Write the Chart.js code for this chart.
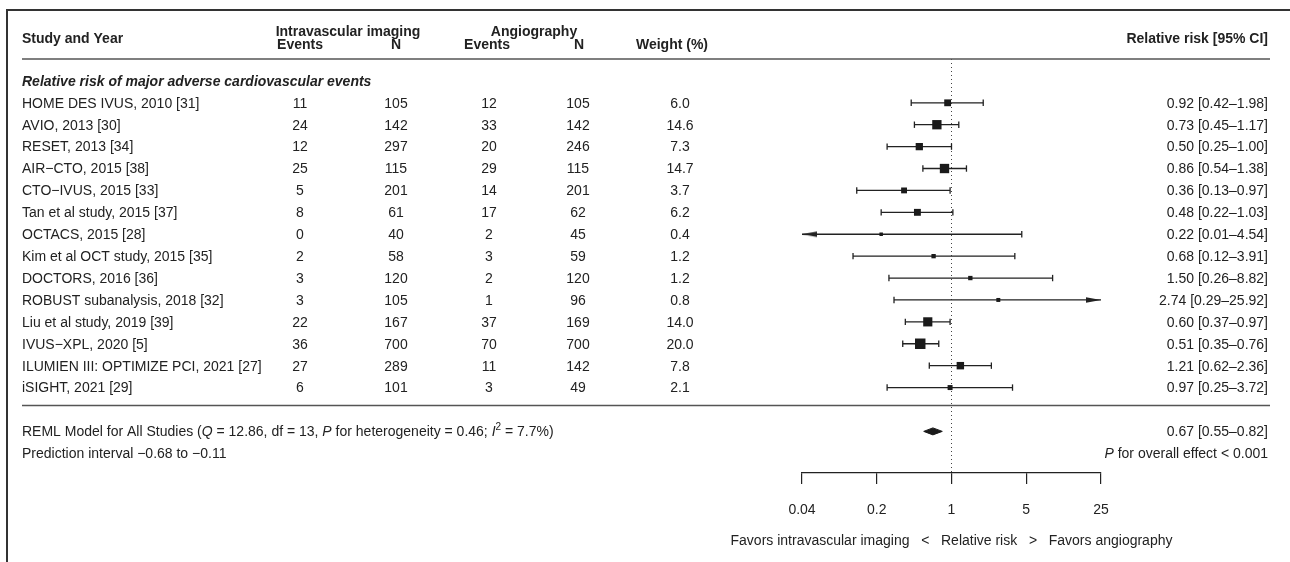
<!DOCTYPE html>
<html lang="en">
<head>
<meta charset="UTF-8" />
<title>Intravascular imaging vs angiography - forest plot</title>
<style>
  body { margin: 0; background: #fff; }
  .container { width: 1290px; height: 562px; position: relative; }
</style>
</head>
<body>
<div class="container"><canvas id="forest"></canvas></div>
<script src="https://cdn.jsdelivr.net/npm/chart.js"></script>
<script>
// study rows, top to bottom
const studies = [
  'HOME DES IVUS, 2010 [31]', 'AVIO, 2013 [30]', 'RESET, 2013 [34]', 'AIR\u2212CTO, 2015 [38]',
  'CTO\u2212IVUS, 2015 [33]', 'Tan et al study, 2015 [37]', 'OCTACS, 2015 [28]',
  'Kim et al OCT study, 2015 [35]', 'DOCTORS, 2016 [36]', 'ROBUST subanalysis, 2018 [32]',
  'Liu et al study, 2019 [39]', 'IVUS\u2212XPL, 2020 [5]', 'ILUMIEN III: OPTIMIZE PCI, 2021 [27]',
  'iSIGHT, 2021 [29]'
];
const eventsImaging = [11, 24, 12, 25, 5, 8, 0, 2, 3, 3, 22, 36, 27, 6];
const nImaging = [105, 142, 297, 115, 201, 61, 40, 58, 120, 105, 167, 700, 289, 101];
const eventsAngio = [12, 33, 20, 29, 14, 17, 2, 3, 2, 1, 37, 70, 11, 3];
const nAngio = [105, 142, 246, 115, 201, 62, 45, 59, 120, 96, 169, 700, 142, 49];
const weights = [6.0, 14.6, 7.3, 14.7, 3.7, 6.2, 0.4, 1.2, 1.2, 0.8, 14.0, 20.0, 7.8, 2.1];
const rr = [0.92, 0.73, 0.50, 0.86, 0.36, 0.48, 0.22, 0.68, 1.50, 2.74, 0.60, 0.51, 1.21, 0.97];
const ciLow = [0.42, 0.45, 0.25, 0.54, 0.13, 0.22, 0.01, 0.12, 0.26, 0.29, 0.37, 0.35, 0.62, 0.25];
const ciHigh = [1.98, 1.17, 1.00, 1.38, 0.97, 1.03, 4.54, 3.91, 8.82, 25.92, 0.97, 0.76, 2.36, 3.72];

const pooledRR = 0.67;
const pooledLow = 0.55;
const pooledHigh = 0.82;

const tickValues = [0.04, 0.2, 1, 5, 25];
const tickLabels = ['0.04', '0.2', '1', '5', '25'];

// layout (row units on the y scale)
const xMin = tickValues[0], xMax = tickValues[tickValues.length - 1];
const pooledRow = studies.length + 1;
const FONT = '"Liberation Sans", Arial, Helvetica, sans-serif';
const INK = '#222';
const TY = 1; // nudge text down a little

Chart.defaults.font.family = FONT;
Chart.defaults.font.size = 14;
Chart.defaults.color = INK;

const clamp = v => Math.min(xMax, Math.max(xMin, v));

// CI segments, broken by NaN gaps
const ciLine = [];
rr.forEach((v, i) => {
  ciLine.push({ x: clamp(ciLow[i]), y: i }, { x: clamp(ciHigh[i]), y: i }, { x: NaN, y: NaN });
});
const caps = [], arrows = [];
rr.forEach((v, i) => {
  if (ciLow[i] >= xMin) caps.push({ x: ciLow[i], y: i }); else arrows.push({ x: xMin, y: i, dir: -1 });
  if (ciHigh[i] <= xMax) caps.push({ x: ciHigh[i], y: i }); else arrows.push({ x: xMax, y: i, dir: 1 });
});

function makeArrow(dir) {
  const c = document.createElement('canvas');
  c.width = 30; c.height = 8;
  const g = c.getContext('2d');
  g.fillStyle = INK;
  g.beginPath();
  if (dir < 0) { g.moveTo(15, 4); g.lineTo(30, 1.2); g.lineTo(30, 6.8); }
  else { g.moveTo(15, 4); g.lineTo(0, 1.2); g.lineTo(0, 6.8); }
  g.closePath();
  g.fill();
  return c;
}
const arrowLeft = makeArrow(-1), arrowRight = makeArrow(1);

// box side grows with sqrt(weight)
const sw = weights.map(Math.sqrt);
const swMin = Math.min(...sw), swMax = Math.max(...sw);
const boxRadius = w => (3.5 + 7 * (Math.sqrt(w) - swMin) / (swMax - swMin)) / Math.SQRT2;

const dHalf = 0.16; // diamond half height in rows

function drawRich(ctx, parts, x, y, align) {
  const fontFor = p => (p.italic ? 'italic ' : '') + (p.sup ? '10px ' : '14px ') + FONT;
  let total = 0;
  parts.forEach(p => { ctx.font = fontFor(p); total += ctx.measureText(p.t).width; });
  let cx = align === 'right' ? x - total : x;
  ctx.textAlign = 'left';
  parts.forEach(p => {
    ctx.font = fontFor(p);
    ctx.fillText(p.t, cx, p.sup ? y - 5 : y);
    cx += ctx.measureText(p.t).width;
  });
}

const tablePlugin = {
  id: 'table',
  afterDraw(chart) {
    const ctx = chart.ctx;
    const y = v => chart.scales.y.getPixelForValue(v) + TY;
    ctx.save();
    ctx.fillStyle = INK;
    ctx.textBaseline = 'middle';

    // frame
    ctx.strokeStyle = '#333';
    ctx.lineWidth = 2;
    ctx.beginPath();
    ctx.moveTo(7, 562); ctx.lineTo(7, 10); ctx.lineTo(1290, 10);
    ctx.stroke();

    // rules
    const ry = v => chart.scales.y.getPixelForValue(v);
    ctx.strokeStyle = '#555';
    ctx.lineWidth = 1.5;
    ctx.beginPath();
    ctx.moveTo(22, ry(-2)); ctx.lineTo(1270, ry(-2));
    ctx.moveTo(22, ry(13.82)); ctx.lineTo(1270, ry(13.82));
    ctx.stroke();

    // headers
    ctx.font = 'bold 14px ' + FONT;
    ctx.textAlign = 'left';
    ctx.fillText('Study and Year', 22, y(-2.97));
    ctx.textAlign = 'right';
    ctx.fillText('Relative risk [95% CI]', 1268, y(-2.97));
    ctx.textAlign = 'center';
    ctx.fillText('Intravascular imaging', 348, y(-3.25));
    ctx.fillText('Angiography', 534, y(-3.25));
    ctx.fillText('Events', 300, y(-2.7));
    ctx.fillText('N', 396, y(-2.7));
    ctx.fillText('Events', 487, y(-2.7));
    ctx.fillText('N', 579, y(-2.7));
    ctx.fillText('Weight (%)', 672, y(-2.7));

    ctx.font = 'italic bold 14px ' + FONT;
    ctx.textAlign = 'left';
    ctx.fillText('Relative risk of major adverse cardiovascular events', 22, y(-1));

    // study rows
    ctx.font = '14px ' + FONT;
    studies.forEach((s, i) => {
      const yy = y(i);
      ctx.textAlign = 'left';
      ctx.fillText(s, 22, yy);
      ctx.textAlign = 'center';
      ctx.fillText(String(eventsImaging[i]), 300, yy);
      ctx.fillText(String(nImaging[i]), 396, yy);
      ctx.fillText(String(eventsAngio[i]), 489, yy);
      ctx.fillText(String(nAngio[i]), 578, yy);
      ctx.fillText(weights[i].toFixed(1), 680, yy);
      ctx.textAlign = 'right';
      ctx.fillText(rr[i].toFixed(2) + ' [' + ciLow[i].toFixed(2) + '\u2013' + ciHigh[i].toFixed(2) + ']', 1268, yy);
    });

    // pooled
    drawRich(ctx, [
      { t: 'REML Model for All Studies (' }, { t: 'Q', italic: true },
      { t: ' = 12.86, df = 13, ' }, { t: 'P', italic: true },
      { t: ' for heterogeneity = 0.46; ' }, { t: 'I', italic: true }, { t: '2', sup: true },
      { t: ' = 7.7%)' }
    ], 22, y(pooledRow), 'left');
    ctx.font = '14px ' + FONT;
    ctx.textAlign = 'left';
    ctx.fillText('Prediction interval \u22120.68 to \u22120.11', 22, y(pooledRow + 1));
    ctx.textAlign = 'right';
    ctx.fillText(pooledRR.toFixed(2) + ' [' + pooledLow.toFixed(2) + '\u2013' + pooledHigh.toFixed(2) + ']', 1268, y(pooledRow));
    drawRich(ctx, [{ t: 'P', italic: true }, { t: ' for overall effect < 0.001' }], 1268, y(pooledRow + 1), 'right');

    // axis caption, centred on RR = 1
    ctx.font = '14px ' + FONT;
    ctx.textAlign = 'center';
    ctx.fillText('Favors intravascular imaging   <   Relative risk   >   Favors angiography',
      chart.scales.x.getPixelForValue(1), 541);
    ctx.restore();
  }
};

new Chart(document.getElementById('forest'), {
  type: 'scatter',
  data: {
    datasets: [
      {
        label: 'Studies',
        data: rr.map((v, i) => ({ x: v, y: i })),
        pointStyle: 'rect',
        pointRadius: ctx => boxRadius(weights[ctx.dataIndex]),
        backgroundColor: '#1a1a1a',
        borderWidth: 0,
        order: 0
      },
      {
        label: 'Arrows',
        data: arrows,
        pointStyle: ctx => (ctx.raw && ctx.raw.dir < 0 ? arrowLeft : arrowRight),
        pointRadius: 5,
        order: 1
      },
      {
        label: 'Caps',
        data: caps,
        pointStyle: 'line',
        rotation: 90,
        pointRadius: 3.2,
        borderColor: INK,
        borderWidth: 1.3,
        order: 1
      },
      {
        type: 'line',
        label: 'CI',
        data: ciLine,
        borderColor: INK,
        borderWidth: 1.3,
        pointRadius: 0,
        spanGaps: false,
        order: 2
      },
      {
        type: 'line',
        label: 'Pooled',
        data: [
          { x: pooledLow, y: pooledRow }, { x: pooledRR, y: pooledRow - dHalf },
          { x: pooledHigh, y: pooledRow }, { x: pooledRR, y: pooledRow + dHalf },
          { x: pooledLow, y: pooledRow }
        ],
        borderColor: '#1a1a1a',
        backgroundColor: '#1a1a1a',
        borderWidth: 1,
        fill: 'shape',
        pointRadius: 0,
        tension: 0,
        order: 0
      },
      {
        type: 'line',
        label: 'No effect',
        data: [{ x: 1, y: -2 }, { x: 1, y: 16.9 }],
        borderColor: '#444',
        borderWidth: 1,
        borderDash: [1, 3],
        pointRadius: 0,
        order: 3
      }
    ]
  },
  options: {
    responsive: true,
    maintainAspectRatio: false,
    animation: false,
    layout: { padding: { left: 802, right: 189, top: 59, bottom: 0 } },
    plugins: { legend: { display: false }, tooltip: { enabled: false } },
    scales: {
      x: {
        type: 'logarithmic',
        position: 'bottom',
        min: xMin,
        max: xMax,
        afterBuildTicks: s => { s.ticks = tickValues.map(v => ({ value: v })); },
        afterFit: s => { s.height = 89; },
        ticks: {
          autoSkip: false,
          maxRotation: 0,
          padding: 18,
          color: INK,
          font: { size: 14 },
          callback: (v, i) => tickLabels[i]
        },
        grid: { drawOnChartArea: false, drawTicks: true, tickLength: 11, color: INK, lineWidth: 1.2 },
        border: { display: true, color: INK, width: 1.2 }
      },
      y: {
        type: 'linear',
        display: false,
        reverse: true,
        min: -2,
        max: 16.9
      }
    }
  },
  plugins: [tablePlugin]
});
</script>
</body>
</html>
